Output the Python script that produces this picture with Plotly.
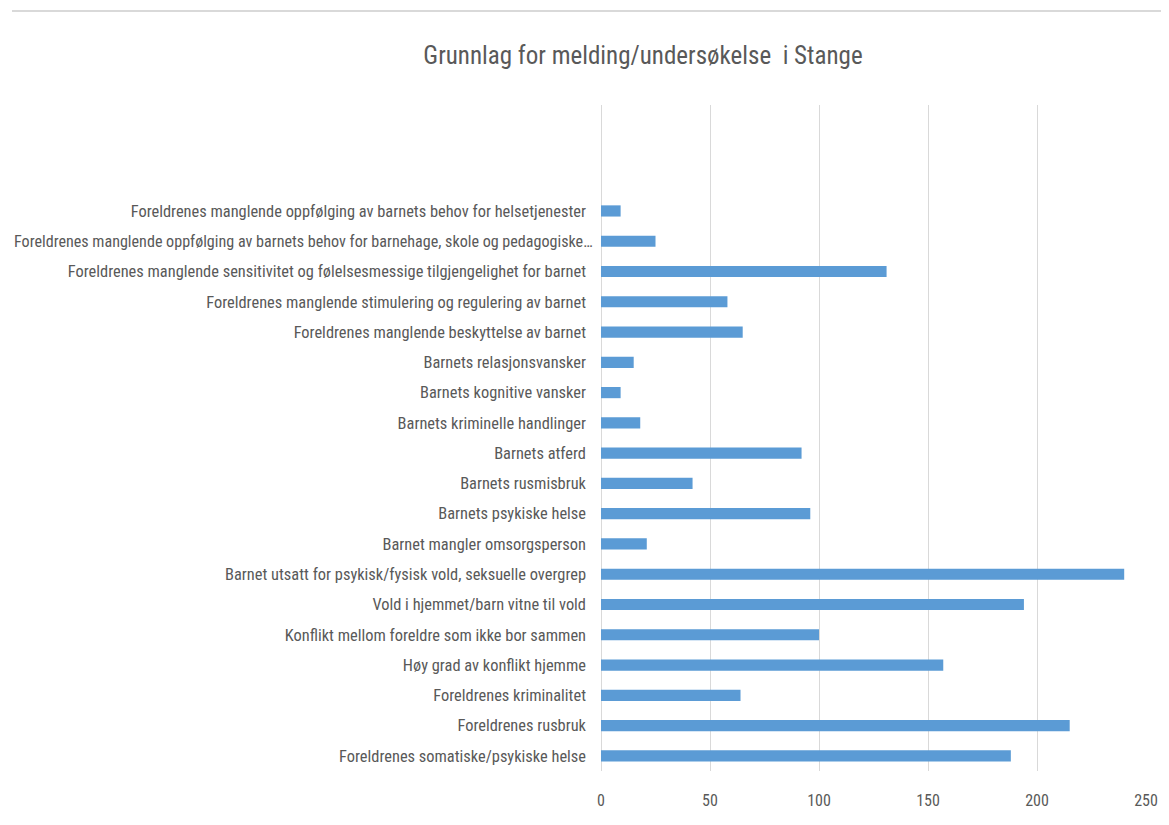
import plotly.graph_objects as go

categories = [
    "Foreldrenes somatiske/psykiske helse",
    "Foreldrenes rusbruk",
    "Foreldrenes kriminalitet",
    "Høy grad av konflikt hjemme",
    "Konflikt mellom foreldre som ikke bor sammen",
    "Vold i hjemmet/barn vitne til vold",
    "Barnet utsatt for psykisk/fysisk vold, seksuelle overgrep",
    "Barnet mangler omsorgsperson",
    "Barnets psykiske helse",
    "Barnets rusmisbruk",
    "Barnets atferd",
    "Barnets kriminelle handlinger",
    "Barnets kognitive vansker",
    "Barnets relasjonsvansker",
    "Foreldrenes manglende beskyttelse av barnet",
    "Foreldrenes manglende stimulering og regulering av barnet",
    "Foreldrenes manglende sensitivitet og følelsesmessige tilgjengelighet for barnet",
    "Foreldrenes manglende oppfølging av barnets behov for barnehage, skole og pedagogiske…",
    "Foreldrenes manglende oppfølging av barnets behov for helsetjenester",
]
values = [188, 215, 64, 157, 100, 194, 240, 21, 96, 42, 92, 18, 9, 15, 65, 58, 131, 25, 9]

x_ticks = [0, 50, 100, 150, 200, 250]
title_text = "Grunnlag for melding/undersøkelse  i Stange"
long_label = categories[17]

FONT = "Noto Sans Condensed, Noto Sans ExtraCondensed, Roboto Condensed, Liberation Sans Narrow, Arial Narrow, sans-serif"
TXT = "#595959"
GRID = "#d9d9d9"

# page has an 8px body offset; lay out in a 1161x817 figure
W, H, OFF = 1161, 817, 8
PL, PR, PT, PB = 601 - OFF, 1146 - OFF, 105 - OFF, 771 - OFF

fig = go.Figure()
fig.add_trace(go.Bar(
    y=categories, x=values, orientation="h",
    marker=dict(color="#5B9BD5", line=dict(width=0)),
    width=0.37,
    hoverinfo="x+y",
))

tick_text = ["" if c == long_label else c for c in categories]

fig.update_layout(
    width=W, height=H,
    margin=dict(l=PL, r=W - PR, t=PT, b=H - PB, autoexpand=False),
    paper_bgcolor="white", plot_bgcolor="white",
    showlegend=False,
    font=dict(family=FONT, color=TXT, size=16),
    title=dict(text=title_text, x=(643 - OFF) / W, xanchor="center",
               y=1 - (55 - OFF) / H, yanchor="middle",
               font=dict(family=FONT, size=25, color=TXT)),
    xaxis=dict(range=[0, 250], tickvals=x_ticks, showgrid=True,
               gridcolor=GRID, gridwidth=1, zeroline=True,
               zerolinecolor=GRID, zerolinewidth=1, showline=False,
               ticks="", ticklabelstandoff=18, automargin=False,
               tickfont=dict(family=FONT, size=16, color=TXT)),
    yaxis=dict(type="category", categoryorder="array", categoryarray=categories,
               tickvals=categories, ticktext=tick_text,
               range=[-0.5, 21.5], showgrid=False, zeroline=False,
               showline=False, ticks="", ticklabelstandoff=14, automargin=False,
               tickfont=dict(family=FONT, size=16.4, color=TXT)),
    annotations=[dict(text=long_label, xref="paper", yref="y",
                      x=(595 - 601) / 545, y=long_label,
                      xanchor="right", yanchor="middle", showarrow=False,
                      font=dict(family=FONT, size=16.1, color=TXT))],
    shapes=[dict(type="line", xref="paper", yref="paper",
                 x0=(12 - 601) / 545, x1=(1169 - 601) / 545,
                 y0=(771 - 11) / 666, y1=(771 - 11) / 666,
                 line=dict(color=GRID, width=2))],
)

fig.write_html("out.html")
